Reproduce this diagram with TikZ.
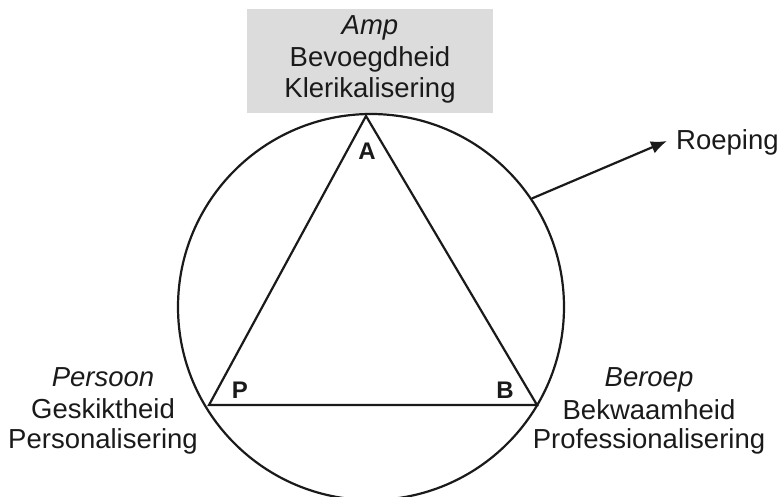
\documentclass[tikz,border=0pt]{standalone}
\usepackage{fontspec}
\setmainfont{Liberation Sans}
\usetikzlibrary{arrows.meta}
\definecolor{boxgray}{HTML}{DCDCDC}
\definecolor{ink}{HTML}{1A1A1A}
\tikzset{
  lbl/.style={anchor=base, inner sep=0pt, text=ink, font=\fontsize{27.5}{32}\selectfont},
  vtx/.style={anchor=center, inner sep=0pt, text=ink, font=\fontsize{24}{28}\selectfont\bfseries},
  edge/.style={line width=2.2pt, draw=ink, line join=miter},
}
\begin{document}
\begin{tikzpicture}[x=1pt, y=-1pt]
\useasboundingbox (0,0) rectangle (780,497);
% gray box
\node[fill=boxgray, inner sep=0pt, minimum width=246pt, minimum height=104pt] (ampbox) at (370,61) {};
\node[lbl] (amp) at (370,35) {\itshape Amp};
\node[lbl] (bevoeg) at (370,67) {Bevoegdheid};
\node[lbl] (kler) at (370,98) {Klerikalisering};
% circle
\node[circle, draw=ink, line width=2.2pt, minimum size=386pt, inner sep=0pt] (ring) at (371,307) {};
% triangle
\coordinate (A) at (366,116);
\coordinate (P) at (209,405);
\coordinate (B) at (537,405);
\draw[edge] (A) -- (P) -- (B) -- cycle;
\node[vtx] (la) at (367,151) {A};
\node[vtx] (lp) at (240,390) {P};
\node[vtx] (lb) at (505,390) {B};
% Persoon
\node[lbl] (pers) at (103,387) {\itshape Persoon};
\node[lbl] (gesk) at (103,418) {Geskiktheid};
\node[lbl] (perso) at (103,448) {Personalisering};
% Beroep
\node[lbl] (ber) at (649,387) {\itshape Beroep};
\node[lbl] (bekw) at (649,419) {Bekwaamheid};
\node[lbl] (prof) at (649,448) {Professionalisering};
% Roeping arrow
\coordinate (tip) at (667,141);
\node[lbl, anchor=base west] (roep) at (676,150) {Roeping};
\draw[edge, -{Latex[length=16pt,width=13pt]}] (ring.34) -- (tip);
\end{tikzpicture}
\end{document}
